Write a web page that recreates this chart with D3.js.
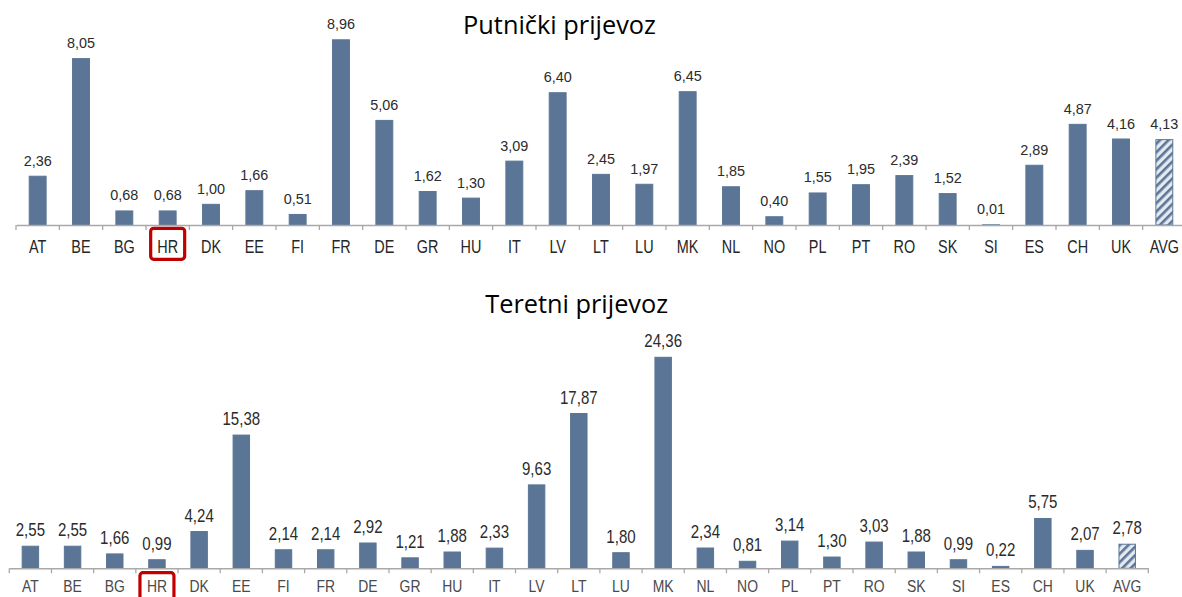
<!DOCTYPE html>
<html>
<head>
<meta charset="utf-8">
<script src="https://cdn.jsdelivr.net/npm/d3@7"></script>
<style>
  html, body { margin: 0; padding: 0; background: #fff; }
  svg { display: block; }
</style>
</head>
<body>
<svg id="chart" width="1182" height="597"></svg>
<script>
// ---- data ----
const categories = ["AT","BE","BG","HR","DK","EE","FI","FR","DE","GR","HU","IT","LV","LT","LU","MK","NL","NO","PL","PT","RO","SK","SI","ES","CH","UK","AVG"];
const passengerValues = [2.36,8.05,0.68,0.68,1.00,1.66,0.51,8.96,5.06,1.62,1.30,3.09,6.40,2.45,1.97,6.45,1.85,0.40,1.55,1.95,2.39,1.52,0.01,2.89,4.87,4.16,4.13];
const freightValues = [2.55,2.55,1.66,0.99,4.24,15.38,2.14,2.14,2.92,1.21,1.88,2.33,9.63,17.87,1.80,24.36,2.34,0.81,3.14,1.30,3.03,1.88,0.99,0.22,5.75,2.07,2.78];
const highlighted = ["HR"];
const averageCategory = "AVG";
const titles = ["Putnički prijevoz", "Teretni prijevoz"];

// ---- styling / layout ----
const barColor = "#5b7596";
const svg = d3.select("#chart");
const locale = d3.formatLocale({decimal: ",", thousands: ".", grouping: [3], currency: ["", ""]});
const fmt = locale.format(".2f");

const defs = svg.append("defs");
const pat = defs.append("pattern").attr("id", "hatch").attr("patternUnits", "userSpaceOnUse")
  .attr("width", 6).attr("height", 6).attr("patternTransform", "rotate(45)");
pat.append("rect").attr("width", 6).attr("height", 6).attr("fill", "#e4e9ef");
pat.append("rect").attr("x", 0).attr("width", 2.6).attr("height", 6).attr("fill", barColor);

const panels = [
  {values: passengerValues, title: titles[0], x0: 16, x1: 1186, y0: 225, pxPerUnit: 20.67, yMax: 9,
   barFrac: 0.39, valSize: 15.5, valSx: 0.93, valGap: 10.5, valColor: "#2b2b2b",
   catSize: 19, catSx: 0.76, catBase: 253.3, catColor: "#262626",
   titleX: 559.5, titleBase: 34.3, titleW: 193,
   box: {w: 34, h: 31, y: 228.3}},
  {values: freightValues, title: titles[1], x0: 9.3, x1: 1148.3, y0: 568.3, pxPerUnit: 8.662, yMax: 25,
   barFrac: 0.39, valSize: 17.5, valSx: 0.86, valGap: 10, valColor: "#2b2b2b",
   catSize: 17, catSx: 0.82, catBase: 592, catColor: "#4a4a4a",
   titleX: 576.7, titleBase: 313.3, titleW: 183,
   box: {w: 34, h: 31, y: 572.7}}
];

panels.forEach(p => {
  const g = svg.append("g");
  const x = d3.scaleBand().domain(categories).range([p.x0, p.x1]).padding(0);
  const y = d3.scaleLinear().domain([0, p.yMax]).range([p.y0, p.y0 - p.yMax * p.pxPerUnit]);
  const bw = x.bandwidth();
  const barW = bw * p.barFrac;

  // title
  const t = g.append("text").text(p.title)
    .attr("x", p.titleX).attr("y", p.titleBase)
    .attr("text-anchor", "middle")
    .attr("font-family", "'Open Sans', sans-serif")
    .attr("font-size", 24).attr("fill", "#000");
  const w = t.node().getComputedTextLength();
  t.attr("font-size", 24 * p.titleW / w);

  // bars
  g.selectAll("rect.bar").data(categories).join("rect")
    .attr("class", "bar")
    .attr("x", c => x(c) + (bw - barW) / 2)
    .attr("width", barW)
    .attr("y", (c, i) => y(p.values[i]))
    .attr("height", (c, i) => y(0) - y(p.values[i]))
    .attr("fill", c => c === averageCategory ? "url(#hatch)" : barColor)
    .attr("stroke", barColor).attr("stroke-width", 1);

  // axis
  const axis = d3.axisBottom(x).tickSize(0).tickFormat("");
  const ax = g.append("g").attr("transform", `translate(0,${p.y0})`).call(axis);
  ax.select(".domain").attr("stroke", "#a9a9a9").attr("stroke-width", 1.5);
  const bounds = categories.map(c => x(c)).concat([p.x1]);
  ax.selectAll("line.bt").data(bounds).join("line").attr("class", "bt")
    .attr("x1", d => d).attr("x2", d => d).attr("y1", 0).attr("y2", 5)
    .attr("stroke", "#a9a9a9").attr("stroke-width", 1.3);

  // value labels
  g.selectAll("text.val").data(categories).join("text").attr("class", "val")
    .attr("transform", (c, i) => `translate(${x(c) + bw / 2},${y(p.values[i]) - p.valGap}) scale(${p.valSx},1)`)
    .attr("text-anchor", "middle")
    .attr("font-family", "'Liberation Sans', Arial, sans-serif")
    .attr("font-size", p.valSize).attr("fill", p.valColor)
    .text((c, i) => fmt(p.values[i]));

  // category labels
  g.selectAll("text.cat").data(categories).join("text").attr("class", "cat")
    .attr("transform", c => `translate(${x(c) + bw / 2},${p.catBase}) scale(${p.catSx},1)`)
    .attr("text-anchor", "middle")
    .attr("font-family", "'Liberation Sans', Arial, sans-serif")
    .attr("font-size", p.catSize).attr("fill", p.catColor)
    .text(c => c);

  // highlight boxes
  g.selectAll("rect.hl").data(highlighted).join("rect").attr("class", "hl")
    .attr("x", c => x(c) + bw / 2 - p.box.w / 2)
    .attr("y", p.box.y)
    .attr("width", p.box.w).attr("height", p.box.h)
    .attr("rx", 3).attr("fill", "none")
    .attr("stroke", "#c00000").attr("stroke-width", 3.2);
});
</script>
</body>
</html>
